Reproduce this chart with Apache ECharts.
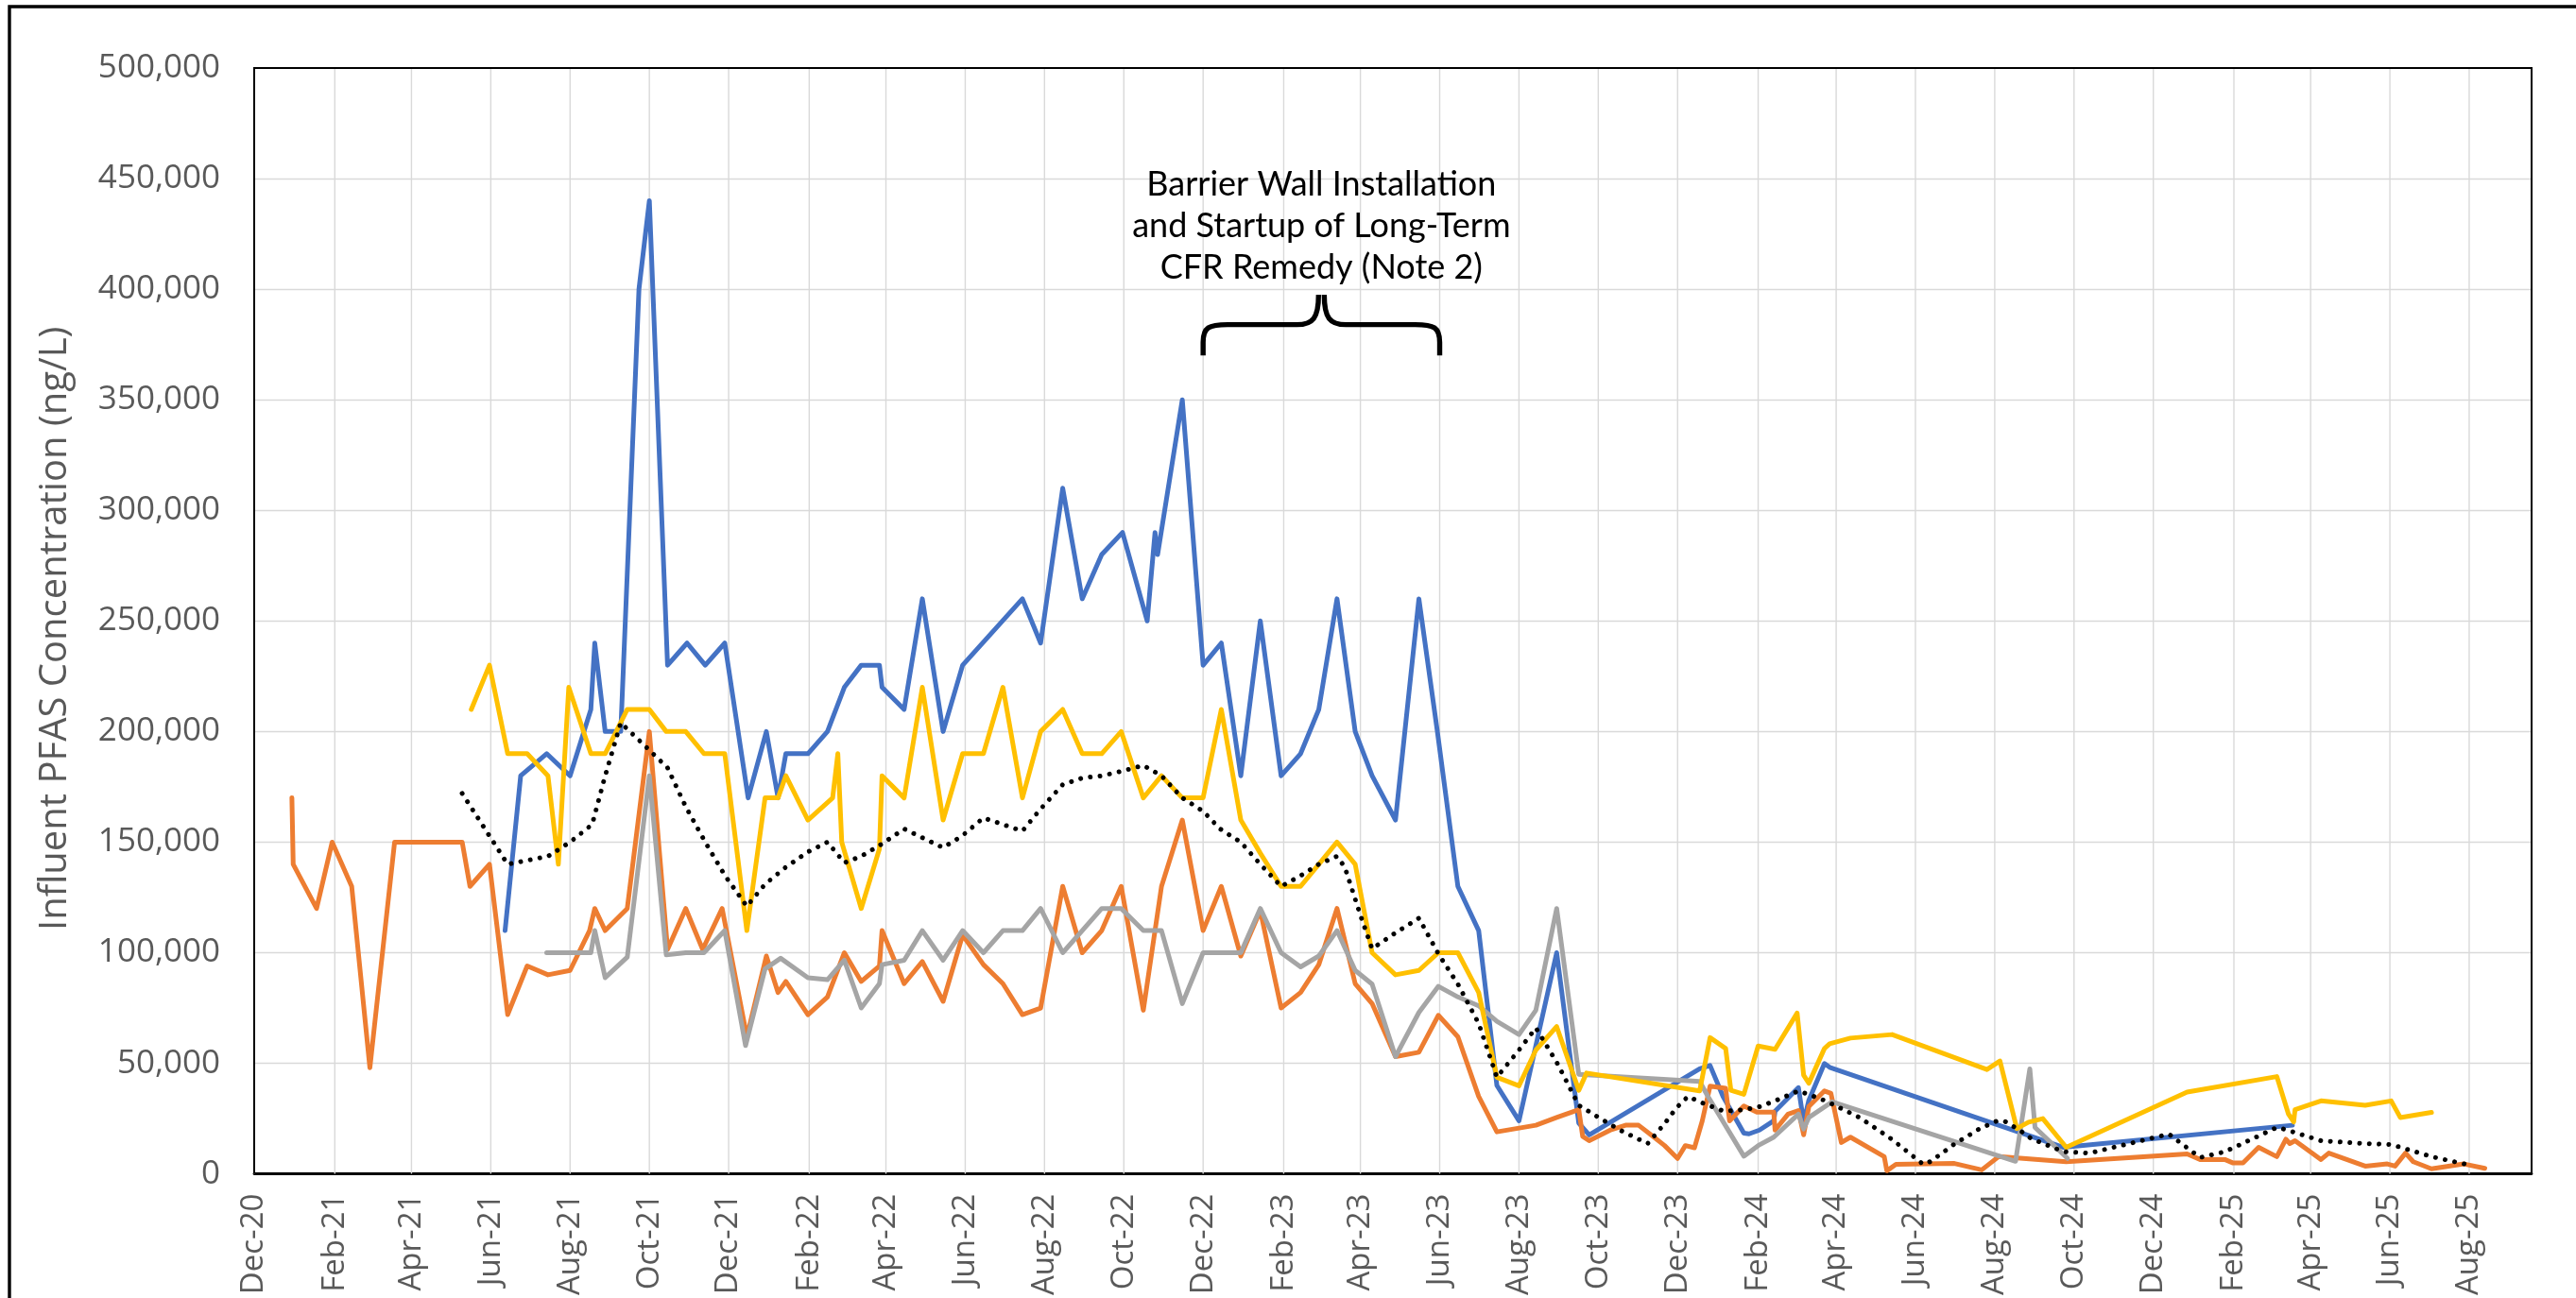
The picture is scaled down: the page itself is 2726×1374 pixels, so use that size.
<!DOCTYPE html>
<html><head><meta charset="utf-8">
<script src="https://cdn.jsdelivr.net/npm/echarts@6/dist/echarts.min.js"></script>
<style>html,body{margin:0;padding:0;background:#fff}#c{width:2726px;height:1374px}</style>
</head><body><div id="c"></div>
<script>
// ---- tick labels (x axis, every two months) ----
const xTickDates = ['2020-12-01','2021-02-01','2021-04-01','2021-06-01','2021-08-01','2021-10-01','2021-12-01',
  '2022-02-01','2022-04-01','2022-06-01','2022-08-01','2022-10-01','2022-12-01',
  '2023-02-01','2023-04-01','2023-06-01','2023-08-01','2023-10-01','2023-12-01',
  '2024-02-01','2024-04-01','2024-06-01','2024-08-01','2024-10-01','2024-12-01',
  '2025-02-01','2025-04-01','2025-06-01','2025-08-01'];
const monthNames = ['Jan','Feb','Mar','Apr','May','Jun','Jul','Aug','Sep','Oct','Nov','Dec'];
const yTicks = [0,50000,100000,150000,200000,250000,300000,350000,400000,450000,500000];

// ---- series (date, ng/L) ----
const blueSeries = [
['2021-06-12',110000],['2021-06-24',180000],['2021-07-14',190000],['2021-08-01',180000],['2021-08-17',210000],
['2021-08-20',240000],['2021-08-28',200000],['2021-09-09',200000],['2021-09-23',400000],['2021-10-01',440000],
['2021-10-15',230000],['2021-10-30',240000],['2021-11-13',230000],['2021-11-28',240000],['2021-12-16',170000],
['2021-12-30',200000],['2022-01-08',170000],['2022-01-14',190000],['2022-01-31',190000],['2022-02-15',200000],
['2022-02-28',220000],['2022-03-13',230000],['2022-03-27',230000],['2022-03-29',220000],['2022-04-15',210000],
['2022-04-29',260000],['2022-05-15',200000],['2022-05-30',230000],['2022-07-15',260000],['2022-07-29',240000],
['2022-08-15',310000],['2022-08-30',260000],['2022-09-14',280000],['2022-09-30',290000],['2022-10-19',250000],
['2022-10-25',290000],['2022-10-27',280000],['2022-11-15',350000],['2022-12-01',230000],['2022-12-15',240000],
['2022-12-30',180000],['2023-01-14',250000],['2023-01-30',180000],['2023-02-14',190000],['2023-02-28',210000],
['2023-03-14',260000],['2023-03-28',200000],['2023-04-10',180000],['2023-04-28',160000],['2023-05-16',260000],
['2023-05-30',201000],['2023-06-15',130000],['2023-07-01',110000],['2023-07-15',40000],['2023-08-01',24000],
['2023-08-30',100000],['2023-09-16',23000],['2023-09-24',17600],['2023-12-18',47500],['2023-12-26',49000],
['2024-01-05',35000],['2024-01-21',18400],['2024-01-25',18100],['2024-02-02',19800],['2024-02-13',24000],
['2024-02-14',28300],['2024-03-03',39000],['2024-03-07',23400],['2024-03-11',33300],['2024-03-23',49900],
['2024-03-27',48200],['2024-09-23',12000],['2025-03-18',22000]];

const orangeSeries = [
['2020-12-30',170000],['2020-12-31',140000],['2021-01-18',120000],['2021-01-30',150000],['2021-02-14',130000],
['2021-02-28',48000],['2021-03-19',150000],['2021-05-10',150000],['2021-05-16',130000],['2021-05-31',140000],
['2021-06-14',72000],['2021-06-29',94000],['2021-07-15',90000],['2021-08-01',92000],['2021-08-16',110000],
['2021-08-20',120000],['2021-08-28',110000],['2021-09-14',120000],['2021-10-01',200000],['2021-10-15',101500],
['2021-10-29',120000],['2021-11-11',101500],['2021-11-26',120000],['2021-12-15',62000],['2021-12-30',98500],
['2022-01-08',82000],['2022-01-14',87000],['2022-01-31',72000],['2022-02-15',80000],['2022-02-28',100000],
['2022-03-13',87000],['2022-03-27',94000],['2022-03-29',110000],['2022-04-15',86000],['2022-04-29',96000],
['2022-05-15',78000],['2022-05-30',108000],['2022-06-15',94600],['2022-06-30',86000],['2022-07-15',72000],
['2022-07-29',75000],['2022-08-15',130000],['2022-08-30',100000],['2022-09-14',110000],['2022-09-29',130000],
['2022-10-16',74000],['2022-10-30',130000],['2022-11-15',160000],['2022-12-01',110000],['2022-12-15',130000],
['2022-12-30',98500],['2023-01-14',119000],['2023-01-30',75000],['2023-02-14',82000],['2023-02-28',94600],
['2023-03-14',120000],['2023-03-28',86000],['2023-04-10',77000],['2023-04-28',53000],['2023-05-16',55000],
['2023-05-31',71700],['2023-06-15',62000],['2023-07-01',35000],['2023-07-15',19000],['2023-08-14',22000],
['2023-08-30',25500],['2023-09-16',29000],['2023-09-19',17000],['2023-09-24',15000],['2023-10-11',20000],
['2023-10-22',22000],['2023-11-01',22000],['2023-11-11',17500],['2023-11-21',12800],['2023-12-01',7000],
['2023-12-07',12800],['2023-12-14',11800],['2023-12-20',24000],['2023-12-26',39700],['2024-01-07',38700],
['2024-01-10',24000],['2024-01-21',30700],['2024-01-31',27900],['2024-02-13',27900],['2024-02-14',19800],
['2024-02-24',27000],['2024-03-03',28600],['2024-03-07',17700],['2024-03-11',30500],['2024-03-23',37500],
['2024-03-28',36400],['2024-04-05',14200],['2024-04-12',16600],['2024-05-08',7800],['2024-05-10',1400],
['2024-05-17',4300],['2024-07-01',4700],['2024-07-22',1800],['2024-08-04',7800],['2024-09-25',5500],
['2024-12-27',9000],['2025-01-06',6500],['2025-01-25',6500],['2025-01-31',5000],['2025-02-08',5000],
['2025-02-20',12000],['2025-03-06',7800],['2025-03-13',15700],['2025-03-16',13700],['2025-03-20',15000],
['2025-04-09',6500],['2025-04-15',9400],['2025-05-13',3500],['2025-05-30',4500],['2025-06-05',3500],
['2025-06-13',9400],['2025-06-19',5500],['2025-07-03',2300],['2025-07-28',4500],['2025-08-13',2500]];

const graySeries = [
['2021-07-14',100000],['2021-08-17',100000],['2021-08-20',110000],['2021-08-28',88700],['2021-09-14',98000],
['2021-10-01',180000],['2021-10-14',99000],['2021-10-29',100000],['2021-11-12',100000],['2021-11-28',110000],
['2021-12-14',58000],['2021-12-29',92700],['2022-01-10',97500],['2022-01-31',88700],['2022-02-15',87800],
['2022-02-28',96600],['2022-03-13',75000],['2022-03-27',86000],['2022-03-29',94600],['2022-04-15',96600],
['2022-04-29',110000],['2022-05-15',96600],['2022-05-30',110000],['2022-06-15',100000],['2022-06-30',110000],
['2022-07-15',110000],['2022-07-29',120000],['2022-08-15',100000],['2022-08-30',110000],['2022-09-14',120000],
['2022-09-29',120000],['2022-10-16',110000],['2022-10-30',110000],['2022-11-15',77000],['2022-12-01',100000],
['2022-12-15',100000],['2022-12-30',100000],['2023-01-14',120000],['2023-01-30',100000],['2023-02-14',93600],
['2023-02-28',98500],['2023-03-14',110000],['2023-03-28',92000],['2023-04-10',85800],['2023-04-28',53000],
['2023-05-16',73000],['2023-05-31',84800],['2023-06-15',80000],['2023-07-01',76000],['2023-07-15',69000],
['2023-08-01',63000],['2023-08-14',74000],['2023-08-30',120000],['2023-09-16',45000],['2023-12-18',41800],
['2023-12-24',35400],['2024-01-21',8000],['2024-02-01',12800],['2024-02-13',16600],['2024-03-03',27000],
['2024-03-07',20300],['2024-03-11',25500],['2024-03-29',32600],['2024-08-17',5700],['2024-08-28',47500],
['2024-09-01',21000],['2024-09-26',7000]];

const yellowSeries = [
['2021-05-17',210000],['2021-05-31',230000],['2021-06-14',190000],['2021-06-29',190000],['2021-07-15',180000],
['2021-07-23',140000],['2021-07-31',220000],['2021-08-17',190000],['2021-08-28',190000],['2021-09-14',210000],
['2021-10-01',210000],['2021-10-14',200000],['2021-10-29',200000],['2021-11-12',190000],['2021-11-28',190000],
['2021-12-15',110000],['2021-12-29',170000],['2022-01-08',170000],['2022-01-14',180000],['2022-01-31',160000],
['2022-02-19',170000],['2022-02-23',190000],['2022-02-26',150000],['2022-03-13',120000],['2022-03-27',147000],
['2022-03-29',180000],['2022-04-15',170000],['2022-04-29',220000],['2022-05-15',160000],['2022-05-30',190000],
['2022-06-15',190000],['2022-06-30',220000],['2022-07-15',170000],['2022-07-29',200000],['2022-08-15',210000],
['2022-08-30',190000],['2022-09-14',190000],['2022-09-29',200000],['2022-10-16',170000],['2022-10-30',180000],
['2022-11-15',170000],['2022-12-01',170000],['2022-12-15',210000],['2022-12-30',160000],['2023-01-14',145000],
['2023-01-30',130000],['2023-02-14',130000],['2023-02-28',140000],['2023-03-14',150000],['2023-03-28',140000],
['2023-04-10',100000],['2023-04-28',90000],['2023-05-16',92000],['2023-05-31',100000],['2023-06-15',100000],
['2023-07-01',82000],['2023-07-15',43700],['2023-08-01',39800],['2023-08-14',56000],['2023-08-30',66600],
['2023-09-16',37800],['2023-09-22',45600],['2023-12-18',37500],['2023-12-26',61600],['2024-01-07',56700],
['2024-01-11',37800],['2024-01-21',36000],['2024-02-01',57800],['2024-02-14',56300],['2024-03-02',72700],
['2024-03-07',44600],['2024-03-11',41000],['2024-03-23',56700],['2024-03-27',58800],['2024-04-12',61400],
['2024-05-14',63000],['2024-07-26',47200],['2024-08-05',51000],['2024-08-18',20500],['2024-08-27',23400],
['2024-09-07',25000],['2024-09-25',12000],['2024-12-27',37000],['2025-03-06',44000],['2025-03-15',27000],
['2025-03-19',23500],['2025-03-20',29000],['2025-04-09',33000],['2025-05-13',31000],['2025-06-02',33000],
['2025-06-09',25500],['2025-07-03',27800]];

const movingAvgSeries = [
['2021-05-10',172000],['2021-06-14',140000],['2021-07-15',143600],['2021-08-01',150000],['2021-08-18',158000],
['2021-08-28',180000],['2021-09-09',204000],['2021-10-01',191600],['2021-10-15',183600],['2021-10-29',166000],
['2021-11-13',150000],['2021-11-28',135000],['2021-12-15',121000],['2021-12-29',131000],['2022-01-14',138700],
['2022-01-31',145600],['2022-02-15',150000],['2022-02-28',140700],['2022-03-13',143600],['2022-03-27',148500],
['2022-04-15',156000],['2022-04-29',152000],['2022-05-15',147500],['2022-05-30',153000],['2022-06-15',161000],
['2022-06-30',158000],['2022-07-15',155000],['2022-07-29',165000],['2022-08-15',176000],['2022-08-30',179000],
['2022-09-14',180000],['2022-09-29',182000],['2022-10-16',184700],['2022-10-30',180000],['2022-11-15',170000],
['2022-12-01',164000],['2022-12-14',156000],['2022-12-30',150000],['2023-01-14',140000],['2023-01-30',130000],
['2023-02-14',134800],['2023-02-28',140000],['2023-03-14',143600],['2023-03-20',138700],['2023-04-01',117000],
['2023-04-10',101800],['2023-04-28',109000],['2023-05-16',115600],['2023-05-31',99500],['2023-06-15',85800],
['2023-07-01',68000],['2023-07-15',43700],['2023-08-01',56000],['2023-08-14',66000],['2023-08-30',50500],
['2023-09-16',31000],['2023-09-30',26000],['2023-10-17',20000],['2023-11-08',13700],['2023-11-21',22700],
['2023-11-30',29800],['2023-12-09',35000],['2023-12-22',31600],['2024-01-06',28300],['2024-01-21',29000],
['2024-02-03',30500],['2024-02-18',34000],['2024-03-03',37500],['2024-03-10',36100],['2024-03-24',33000],
['2024-04-19',25500],['2024-05-14',15600],['2024-06-07',4300],['2024-06-13',5700],['2024-07-01',13500],
['2024-07-20',20300],['2024-08-03',24000],['2024-08-09',23700],['2024-08-21',19400],['2024-08-29',16000],
['2024-09-23',10000],['2024-10-13',9400],['2024-12-13',18000],['2025-01-06',7400],['2025-01-25',10000],
['2025-03-06',21000],['2025-03-13',20000],['2025-04-09',15000],['2025-05-13',13700],['2025-06-02',13300],
['2025-07-03',7800],['2025-08-01',4000]];

// ---- annotation (data-space anchors) ----
const noteText = 'Barrier Wall Installation\nand Startup of Long-Term\nCFR Remedy (Note 2)';
const braceStart = '2022-12-01', braceEnd = '2023-06-01', braceMid = '2023-03-02';
const braceBottom = 370000, braceBar = 384000, braceTip = 397500, noteCenter = 428600;

const ts = s => { const p = s.split('-'); return Date.UTC(+p[0], +p[1]-1, +p[2]); };
const toData = arr => arr.map(d => [ts(d[0]), d[1]]);
const gray = '#595959';
const font = 'Open Sans';
const LW = 5;

const chart = echarts.init(document.getElementById('c'), null, {renderer:'canvas'});
function line(name, data, color, extra) {
  return Object.assign({
    name, type:'line', data: toData(data), symbol:'none', animation:false,
    lineStyle:{color, width:LW, join:'round', cap:'round'}, z: 3
  }, extra || {});
}
// vertical gridlines drawn at the tick dates through the axis scale
const gridSeries = {
  type:'custom', silent:true, z:1, animation:false,
  data: xTickDates.map(d => [ts(d)]),
  renderItem: (params, api) => {
    const a = api.coord([api.value(0), 0]), b = api.coord([api.value(0), 500000]);
    return {type:'line', shape:{x1:a[0], y1:a[1], x2:b[0], y2:b[1]}, style:{stroke:'#d9d9d9', lineWidth:1.4}};
  }
};
// plot-area frame (top/right black border)
const frameSeries = {
  type:'custom', silent:true, z:5, animation:false,
  data: [[ts(xTickDates[0]), 0]],
  renderItem: (params, api) => {
    const c = params.coordSys;
    return {type:'polyline', shape:{points:[[c.x, c.y + c.height],[c.x, c.y],[c.x + c.width, c.y],[c.x + c.width, c.y + c.height]]},
      style:{stroke:'#000', lineWidth:2, fill:null}};
  }
};
// brace + note
const noteSeries = {
  type:'custom', silent:true, z:6, animation:false, clip:false,
  data: [[ts(braceMid), noteCenter]],
  renderItem: (params, api) => {
    const L = api.coord([ts(braceStart), braceBottom]), R = api.coord([ts(braceEnd), braceBottom]);
    const M = api.coord([ts(braceMid), braceTip]);
    const yb = L[1], ybar = api.coord([ts(braceMid), braceBar])[1], yt = M[1];
    const x0 = L[0], x1 = R[0], xm = M[0];
    const p = `M${x0} ${yb} L${x0} ${yb-14} C${x0} ${ybar+3} ${x0+6} ${ybar} ${x0+26} ${ybar} L${xm-26} ${ybar} C${xm-9} ${ybar} ${xm-3} ${ybar-7} ${xm-3} ${yt}` +
              ` M${xm+3} ${yt} C${xm+3} ${ybar-7} ${xm+9} ${ybar} ${xm+26} ${ybar} L${x1-26} ${ybar} C${x1-6} ${ybar} ${x1} ${ybar+3} ${x1} ${yb-14} L${x1} ${yb}`;
    const T = api.coord([api.value(0), api.value(1)]);
    return {type:'group', children:[
      {type:'path', shape:{pathData:p}, style:{fill:null, stroke:'#000', lineWidth:5.4, lineCap:'butt', lineJoin:'round'}},
      {type:'text', x:T[0], y:T[1], style:{text:noteText, fill:'#000', fontFamily:'Lato', fontSize:36, align:'center', verticalAlign:'middle', lineHeight:44}}
    ]};
  }
};
chart.setOption({
  animation:false,
  backgroundColor:'#fff',
  grid:{left:269, right:47, top:72, bottom:125, show:false},
  xAxis:{
    type:'value', min: ts('2020-12-01'), max: ts('2025-09-18'),
    axisLine:{show:true, onZero:false, lineStyle:{color:'#000', width:2.8}},
    axisTick:{show:false, customValues: xTickDates.map(ts)},
    splitLine:{show:false},
    axisLabel:{customValues: xTickDates.map(ts), rotate:90, margin:21, color:gray, fontFamily:font, fontSize:33,
      hideOverlap:false, showMinLabel:true, showMaxLabel:true,
      formatter: v => { const d = new Date(v); return monthNames[d.getUTCMonth()] + '-' + String(d.getUTCFullYear()).slice(2); }}
  },
  yAxis:{
    type:'value', min:0, max:500000, interval:50000,
    name:'Influent PFAS Concentration (ng/L)', nameLocation:'middle', nameGap:190, nameRotate:90,
    nameTextStyle:{color:gray, fontFamily:font, fontSize:40, padding:[0,16,0,0]},
    axisLine:{show:true, lineStyle:{color:'#000', width:2}},
    axisTick:{show:false},
    splitLine:{show:true, showMaxLine:false, lineStyle:{color:'#d9d9d9', width:1.4}},
    axisLabel:{margin:36, color:gray, fontFamily:font, fontSize:35,
      formatter: v => v.toLocaleString('en-US')}
  },
  graphic:[
    {type:'rect', shape:{x:10, y:7, width:2800, height:1500}, style:{fill:null, stroke:'#000', lineWidth:3.4}, z:100, silent:true}
  ],
  series:[
    gridSeries,
    frameSeries,
    line('Series 1', blueSeries, '#4472C4'),
    line('Series 2', orangeSeries, '#ED7D31'),
    line('Series 3', graySeries, '#A5A5A5'),
    line('Series 4', yellowSeries, '#FFC000'),
    line('Moving Average', movingAvgSeries, '#000', {lineStyle:{color:'#000', width:5, type:[0.01, 10.3], cap:'round', join:'round'}, z:4}),
    noteSeries
  ]
});
</script></body></html>
